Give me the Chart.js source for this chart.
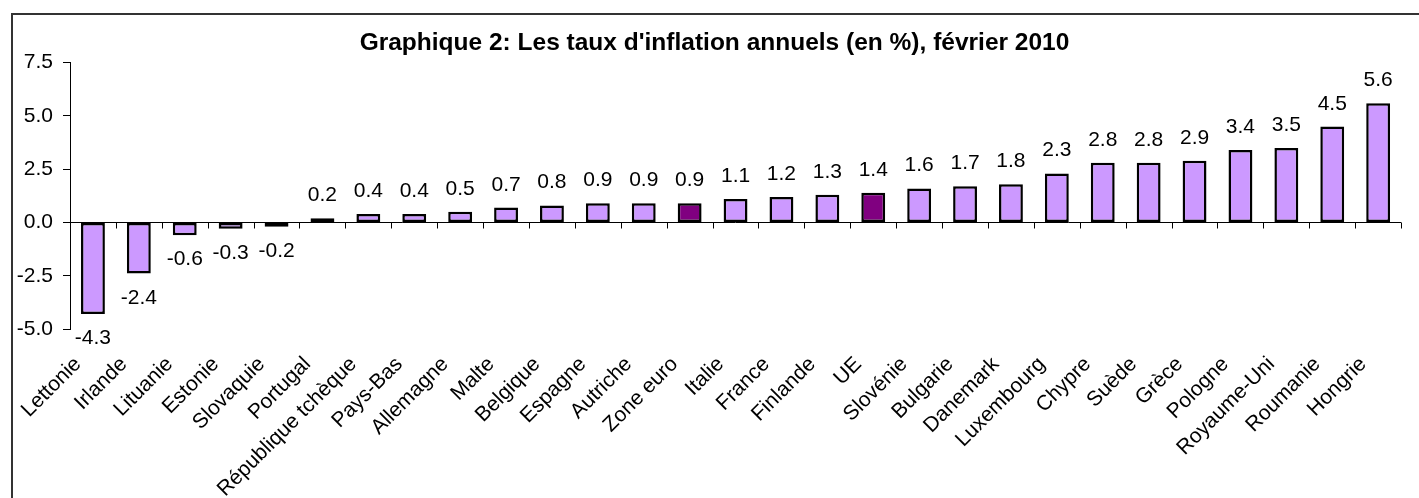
<!DOCTYPE html>
<html lang="fr">
<head>
<meta charset="utf-8">
<title>Taux d'inflation annuels, février 2010</title>
<script src="https://cdn.jsdelivr.net/npm/chart.js@4/dist/chart.umd.min.js"></script>
<style>
  html, body { margin: 0; padding: 0; background: #fff; }
  #wrap { width: 1419px; height: 498px; position: relative; }
</style>
</head>
<body>
<div id="wrap"><canvas id="inflChart" width="1419" height="498"></canvas></div>
<script>
/* ── Data ── */
const countries = ['Lettonie', 'Irlande', 'Lituanie', 'Estonie', 'Slovaquie', 'Portugal', 'République tchèque',
    'Pays-Bas', 'Allemagne', 'Malte', 'Belgique', 'Espagne', 'Autriche', 'Zone euro', 'Italie', 'France',
    'Finlande', 'UE', 'Slovénie', 'Bulgarie', 'Danemark', 'Luxembourg', 'Chypre', 'Suède', 'Grèce',
    'Pologne', 'Royaume-Uni', 'Roumanie', 'Hongrie'];
const rates = [-4.3, -2.4, -0.6, -0.3, -0.2, 0.2, 0.4, 0.4, 0.5, 0.7, 0.8, 0.9, 0.9, 0.9, 1.1, 1.2,
    1.3, 1.4, 1.6, 1.7, 1.8, 2.3, 2.8, 2.8, 2.9, 3.4, 3.5, 4.5, 5.6];
const highlighted = ['Zone euro', 'UE'];
const yTicks = [-5.0, -2.5, 0.0, 2.5, 5.0, 7.5];

const FONT = 'Arial, "Liberation Sans", sans-serif';
const BAR = '#CC99FF';
const BAR_DARK = '#800080';

/* ── Frame, zero line and category ticks ── */
const framePlugin = {
    id: 'frame',
    beforeDraw(chart) {
        const c = chart.ctx;
        c.save();
        c.strokeStyle = '#333';
        c.lineWidth = 2;
        c.beginPath();
        c.moveTo(12, chart.height);
        c.lineTo(12, 14);
        c.lineTo(chart.width, 14);
        c.stroke();
        c.restore();
    },
    afterDatasetsDraw(chart) {
        const c = chart.ctx;
        const { left, right } = chart.chartArea;
        const y0 = Math.round(chart.scales.y.getPixelForValue(0)) + 0.5;
        const n = countries.length;
        const step = (right - left) / n;
        c.save();
        c.strokeStyle = '#000';
        c.lineWidth = 1;
        c.beginPath();
        c.moveTo(left, y0);
        c.lineTo(right, y0);
        for (let i = 1; i <= n; i++) {
            const x = Math.round(left + i * step) + 0.5;
            c.moveTo(x, y0);
            c.lineTo(x, y0 + 6);
        }
        c.stroke();
        c.restore();
    }
};

/* ── Value labels above / below bars ── */
const valueLabels = {
    id: 'valueLabels',
    afterDatasetsDraw(chart) {
        const c = chart.ctx;
        const meta = chart.getDatasetMeta(0);
        c.save();
        c.font = '21px ' + FONT;
        c.fillStyle = '#000';
        c.textAlign = 'center';
        c.textBaseline = 'alphabetic';
        meta.data.forEach((bar, i) => {
            const v = rates[i];
            const y = v >= 0 ? bar.y - 17 : bar.y + 30;
            c.fillText(v.toFixed(1), bar.x, y);
        });
        c.restore();
    }
};

new Chart(document.getElementById('inflChart'), {
    type: 'bar',
    data: {
        labels: countries,
        datasets: [{
            data: rates,
            backgroundColor: countries.map(cn => highlighted.includes(cn) ? BAR_DARK : BAR),
            borderColor: '#000',
            borderWidth: 2.5,
            borderSkipped: false,
            categoryPercentage: 1,
            barPercentage: 0.52
        }]
    },
    options: {
        responsive: false,
        animation: false,
        layout: { padding: { left: 12, right: 2, top: 0, bottom: 0 } },
        plugins: {
            legend: { display: false },
            tooltip: { enabled: false },
            title: {
                display: true,
                text: "Graphique 2: Les taux d'inflation annuels (en %), février 2010",
                color: '#000',
                font: { family: FONT, size: 24.5, weight: 'bold' },
                padding: { top: 28.5, bottom: 4.8 }
            }
        },
        scales: {
            x: {
                grid: { display: false, drawTicks: false },
                border: { display: false },
                ticks: {
                    autoSkip: false, maxRotation: 45, minRotation: 45, padding: 23, labelOffset: -15,
                    color: '#000', font: { family: FONT, size: 21 }
                },
                afterFit(scale) { scale.height = 169; }
            },
            y: {
                min: -5, max: 7.5,
                afterBuildTicks(scale) { scale.ticks = yTicks.map(v => ({ value: v })); },
                grid: { drawOnChartArea: false, tickLength: 7, tickColor: '#000', color: '#000' },
                border: { display: true, color: '#000', width: 1 },
                ticks: {
                    padding: 10, color: '#000', font: { family: FONT, size: 21 },
                    callback: v => Number(v).toFixed(1)
                },
                afterFit(scale) { scale.width = 58; }
            }
        }
    },
    plugins: [framePlugin, valueLabels]
});
</script>
</body>
</html>
